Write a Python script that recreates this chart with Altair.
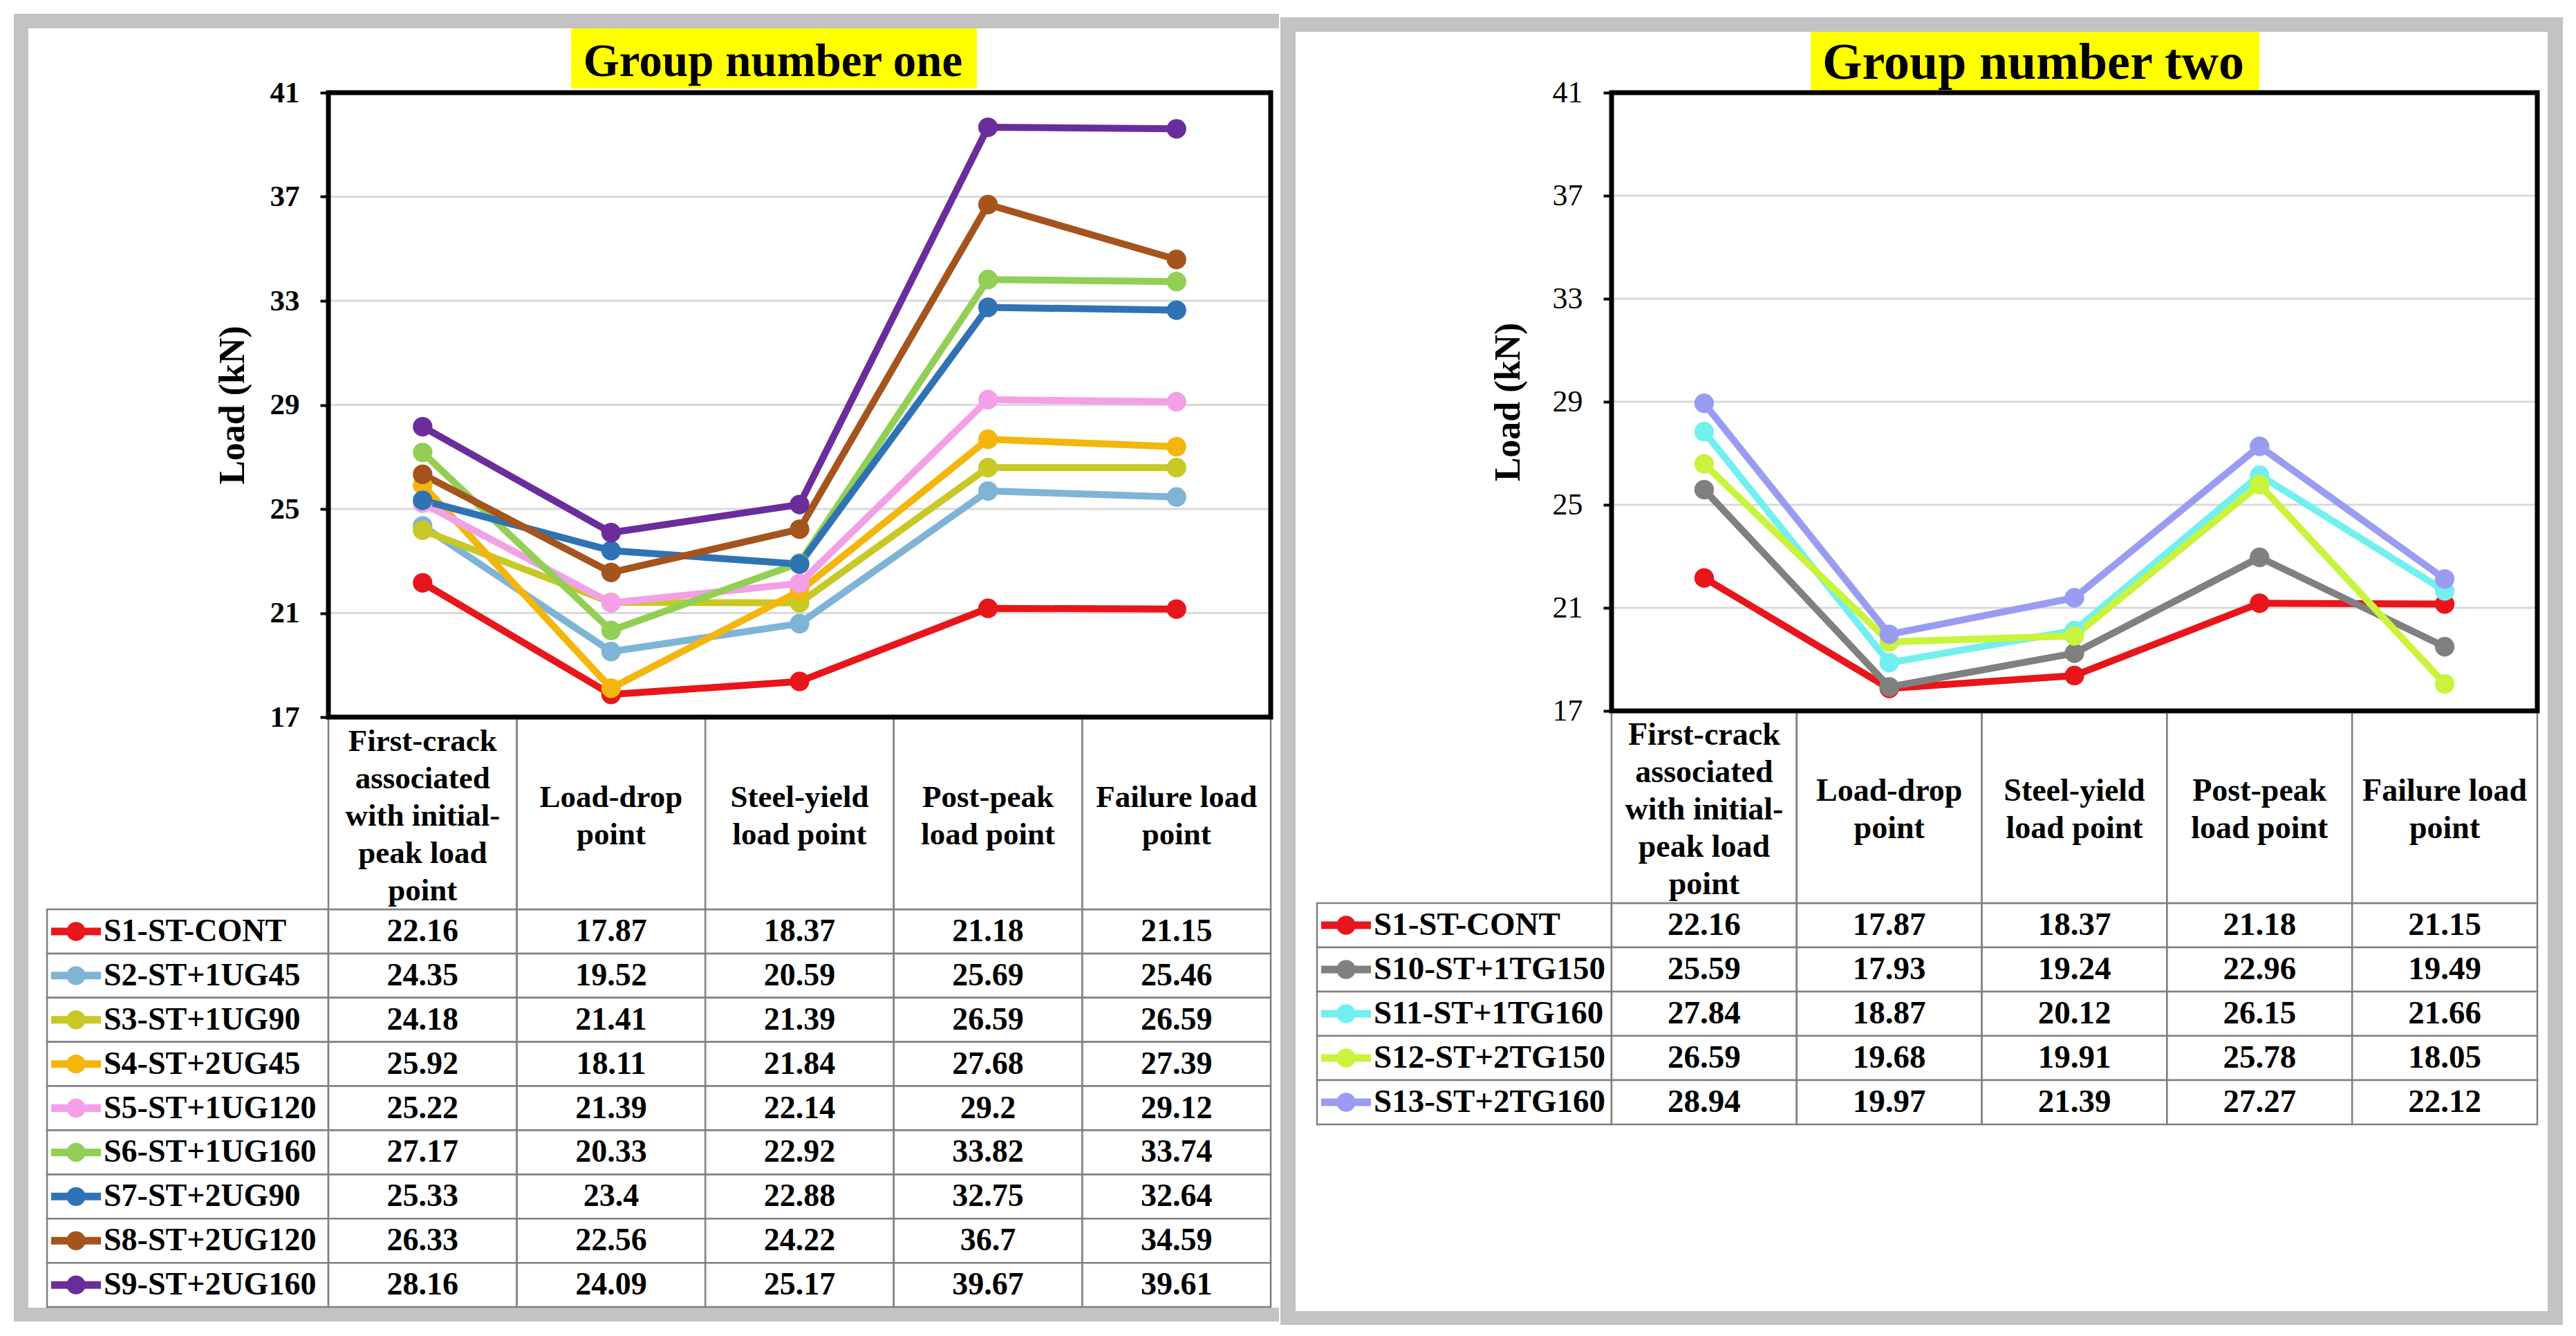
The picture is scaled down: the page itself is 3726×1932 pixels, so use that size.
import altair as alt
import pandas as pd

FONT = "Liberation Serif"

# ---------------- data ----------------
CATEGORIES = [
    "First-crack associated with initial-peak load point",
    "Load-drop point",
    "Steel-yield load point",
    "Post-peak load point",
    "Failure load point",
]
HEADER_LINES = [
    "First-crack\nassociated\nwith initial-\npeak load\npoint",
    "Load-drop\npoint",
    "Steel-yield\nload point",
    "Post-peak\nload point",
    "Failure load\npoint",
]
Y_TICKS = [17, 21, 25, 29, 33, 37, 41]
GRID_VALUES = [21, 25, 29, 33, 37]

G1_SERIES = ["S1-ST-CONT", "S2-ST+1UG45", "S3-ST+1UG90", "S4-ST+2UG45", "S5-ST+1UG120",
             "S6-ST+1UG160", "S7-ST+2UG90", "S8-ST+2UG120", "S9-ST+2UG160"]
S1 = [22.16, 17.87, 18.37, 21.18, 21.15]
S2 = [24.35, 19.52, 20.59, 25.69, 25.46]
S3 = [24.18, 21.41, 21.39, 26.59, 26.59]
S4 = [25.92, 18.11, 21.84, 27.68, 27.39]
S5 = [25.22, 21.39, 22.14, 29.2, 29.12]
S6 = [27.17, 20.33, 22.92, 33.82, 33.74]
S7 = [25.33, 23.4, 22.88, 32.75, 32.64]
S8 = [26.33, 22.56, 24.22, 36.7, 34.59]
S9 = [28.16, 24.09, 25.17, 39.67, 39.61]
G1_VALUES = [S1, S2, S3, S4, S5, S6, S7, S8, S9]

G2_SERIES = ["S1-ST-CONT", "S10-ST+1TG150", "S11-ST+1TG160", "S12-ST+2TG150", "S13-ST+2TG160"]
S10 = [25.59, 17.93, 19.24, 22.96, 19.49]
S11 = [27.84, 18.87, 20.12, 26.15, 21.66]
S12 = [26.59, 19.68, 19.91, 25.78, 18.05]
S13 = [28.94, 19.97, 21.39, 27.27, 22.12]
G2_VALUES = [S1, S10, S11, S12, S13]

ALL_SERIES = ["S1-ST-CONT", "S2-ST+1UG45", "S3-ST+1UG90", "S4-ST+2UG45", "S5-ST+1UG120",
              "S6-ST+1UG160", "S7-ST+2UG90", "S8-ST+2UG120", "S9-ST+2UG160",
              "S10-ST+1TG150", "S11-ST+1TG160", "S12-ST+2TG150", "S13-ST+2TG160"]
COLORS = ["#e8161b", "#7eb4d6", "#c8c826", "#f4b60c", "#f4a0e8",
          "#93cf55", "#2f73b5", "#a4541c", "#6b2d9b",
          "#808080", "#72f0f0", "#c9f43b", "#9a9cf2"]

LINE_H = 54


def panel(title, series, values, W, H, HDR, RH, LW_PX, bg, tbox, tpos, tsize,
          label_weight, label_size, ytitle_pad, fsize):
    n = len(series)
    LWU = LW_PX / (W / 5.0)
    rows = []
    for s, vals in zip(series, values):
        for i, v in enumerate(vals):
            rows.append({"series": s, "cat": CATEGORIES[i], "ci": i, "v": v, "vs": str(v)})
    df = pd.DataFrame(rows)
    one = pd.DataFrame({"k": [0]})

    xscale = alt.Scale(domain=[0, 5], nice=False, zero=False)
    load_scale = alt.Scale(domain=[17, 41], nice=False, zero=False)
    row_scale = alt.Scale(domain=series, range=[H + HDR, H + HDR + n * RH],
                          paddingInner=0, paddingOuter=0)
    y_row = alt.Y("series:N", scale=row_scale, axis=None)
    color = alt.Color("series:N", scale=alt.Scale(domain=ALL_SERIES, range=COLORS), legend=None)

    gx0, gx1, gy0, gy1, wx0, wx1, wy0, wy1 = bg
    bg_gray = alt.Chart(one).mark_rect(color="#c3c3c3").encode(
        x=alt.value(gx0), x2=alt.value(gx1), y=alt.value(gy0), y2=alt.value(gy1))
    bg_white = alt.Chart(one).mark_rect(color="white").encode(
        x=alt.value(wx0), x2=alt.value(wx1), y=alt.value(wy0), y2=alt.value(wy1))
    title_box = alt.Chart(one).mark_rect(color="#ffff00").encode(
        x=alt.value(tbox[0]), x2=alt.value(tbox[1]), y=alt.value(tbox[2]), y2=alt.value(tbox[3]))
    title_text = alt.Chart(pd.DataFrame({"t": [title]})).mark_text(
        font=FONT, fontSize=tsize, fontWeight="bold", color="black", align="center",
        baseline="alphabetic").encode(text="t:N", x=alt.value(tpos[0]), y=alt.value(tpos[1]))

    grid = alt.Chart(pd.DataFrame({"g": GRID_VALUES})).mark_rule(
        color="#d9d9d9", strokeWidth=3).encode(y=alt.Y("g:Q", scale=load_scale, axis=None))

    cells_df = pd.DataFrame([{"series": s, "ci": c} for s in series for c in range(-1, 5)])
    cells = alt.Chart(cells_df).transform_calculate(
        x0=f"datum.ci < 0 ? {-LWU} : datum.ci",
        x1="datum.ci < 0 ? 0 : datum.ci + 1",
    ).mark_rect(fill="white", stroke="#7f7f7f", strokeWidth=2.5).encode(
        x=alt.X("x0:Q", scale=xscale, axis=None), x2="x1:Q", y=y_row)

    hdr_df = pd.DataFrame({"ci": list(range(5)), "h": HEADER_LINES,
                           "nl": [h.count("\n") + 1 for h in HEADER_LINES]})
    header_rect = alt.Chart(hdr_df).transform_calculate(x1="datum.ci + 1").mark_rect(
        fill="white", stroke="#7f7f7f", strokeWidth=2.5).encode(
        x=alt.X("ci:Q", scale=xscale, axis=None), x2="x1:Q",
        y=alt.value(H), y2=alt.value(H + HDR))
    header_layers = []
    for k in sorted(set(hdr_df["nl"])):
        sub = hdr_df[hdr_df["nl"] == k]
        header_layers.append(
            alt.Chart(sub).transform_calculate(xc="datum.ci + 0.5").mark_text(
                font=FONT, fontSize=fsize - 1, fontWeight="bold", color="black",
                lineBreak="\n", lineHeight=LINE_H, baseline="middle", align="center").encode(
                x=alt.X("xc:Q", scale=xscale, axis=None),
                y=alt.value(H + HDR / 2.0 - (k - 1) * LINE_H / 2.0 + 4), text="h:N"))

    cell_text = alt.Chart(df).transform_calculate(xc="datum.ci + 0.5").mark_text(
        font=FONT, fontSize=fsize, fontWeight="bold", color="black", baseline="middle",
        align="center").encode(x=alt.X("xc:Q", scale=xscale, axis=None), y=y_row, text="vs:N")

    label_df = pd.DataFrame({"series": series})
    labels = alt.Chart(label_df).transform_calculate(xl=f"{-LWU}").mark_text(
        font=FONT, fontSize=fsize, fontWeight="bold", color="black", align="left",
        baseline="middle", dx=82).encode(
        x=alt.X("xl:Q", scale=xscale, axis=None), y=y_row, text="series:N")
    marker_rule = alt.Chart(label_df).transform_calculate(xl=f"{-LWU}").mark_rule(
        strokeWidth=11, xOffset=6, x2Offset=78).encode(
        x=alt.X("xl:Q", scale=xscale, axis=None), x2="xl:Q", y=y_row, color=color)
    marker_dot = alt.Chart(label_df).transform_calculate(xl=f"{-LWU}").mark_point(
        filled=True, shape="circle", size=750, opacity=1, xOffset=42).encode(
        x=alt.X("xl:Q", scale=xscale, axis=None), y=y_row, color=color)

    frame = alt.Chart(one).mark_rect(filled=False, stroke="black", strokeWidth=7).encode(
        x=alt.value(0), x2=alt.value(W), y=alt.value(0), y2=alt.value(H))

    axis = alt.Axis(values=Y_TICKS, title="Load (kN)", titleFont=FONT, titleFontSize=52,
                    titleFontWeight="bold", titleColor="black", labelFont=FONT,
                    labelFontSize=label_size, labelFontWeight=label_weight, labelColor="black",
                    tickSize=12, tickWidth=4, tickColor="black", domain=False, grid=False,
                    labelPadding=30, titlePadding=ytitle_pad, zindex=1)

    lines = alt.Chart(df).transform_calculate(xc="datum.ci + 0.5").mark_line(
        strokeWidth=10, strokeJoin="round", strokeCap="round").encode(
        x=alt.X("xc:Q", scale=xscale, axis=None),
        y=alt.Y("v:Q", scale=load_scale, axis=axis),
        color=color, detail="series:N")
    points = alt.Chart(df).transform_calculate(xc="datum.ci + 0.5").mark_point(
        filled=True, shape="circle", size=800, opacity=1).encode(
        x=alt.X("xc:Q", scale=xscale, axis=None),
        y=alt.Y("v:Q", scale=load_scale, axis=None),
        color=color)

    return alt.layer(
        bg_gray, bg_white, title_box, title_text, grid, cells, header_rect, *header_layers,
        cell_text, labels, marker_rule, marker_dot, frame, lines, points,
    ).resolve_scale(y="independent").properties(width=W, height=H)


p1 = panel("Group number one", G1_SERIES, G1_VALUES,
           W=1363, H=903, HDR=278, RH=63.9, LW_PX=407,
           bg=(-455, 1375, -114, 1777, -434, 1375, -93, 1757),
           tbox=(351, 938, -93, -6), tpos=(643, -24), tsize=67,
           label_weight="bold", label_size=43, ytitle_pad=27, fsize=46)
p2 = panel("Group number two", G2_SERIES, G2_VALUES,
           W=1339, H=894, HDR=278, RH=64, LW_PX=426,
           bg=(-479, 1376, -109, 1782, -457, 1354, -88, 1762),
           tbox=(288, 937, -88, -3), tpos=(610, -20), tsize=74,
           label_weight="normal", label_size=44, ytitle_pad=37, fsize=47)

chart = alt.hconcat(p1, p2, spacing=0).properties(
    padding={"left": 11, "top": 11, "right": 10, "bottom": 10}
).configure_view(stroke="transparent").configure(background="white")

chart.save("out.html", embed_options={"renderer": "svg", "actions": False})
